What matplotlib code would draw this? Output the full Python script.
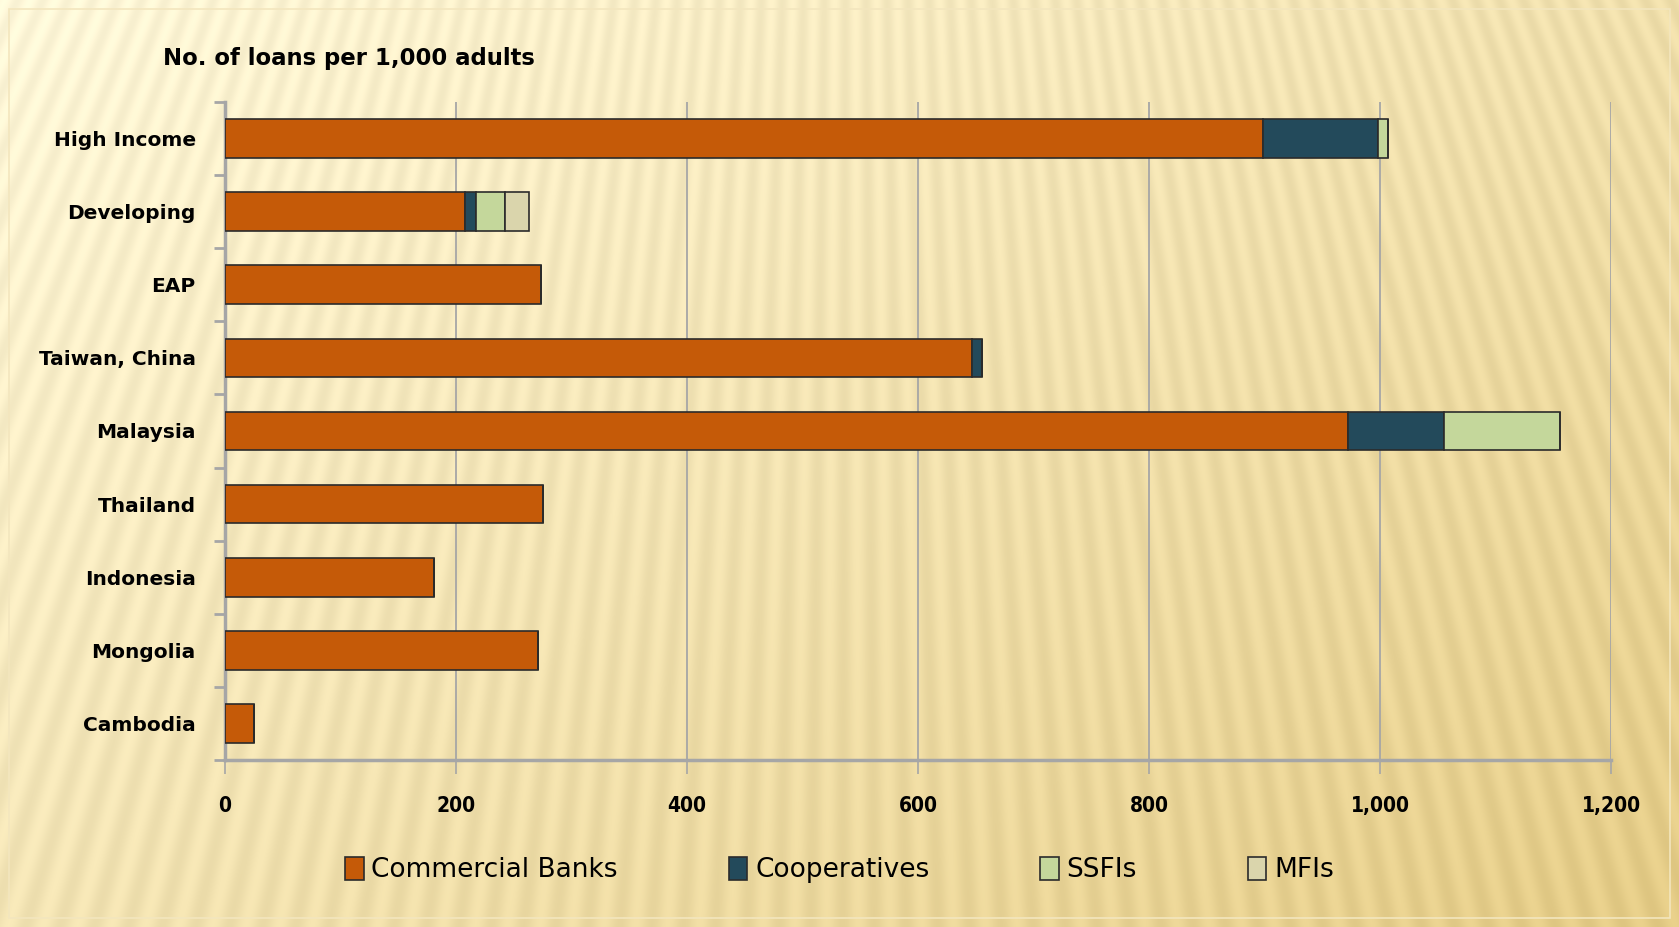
import numpy as np
import matplotlib
matplotlib.use("Agg")
import matplotlib.pyplot as plt
from matplotlib.patches import Rectangle

categories = ["High Income", "Developing", "EAP", "Taiwan, China", "Malaysia",
              "Thailand", "Indonesia", "Mongolia", "Cambodia"]
series_names = ["Commercial Banks", "Cooperatives", "SSFIs", "MFIs"]
commercial_banks = [899, 208, 274, 647, 972, 275, 181, 271, 25]
cooperatives = [99, 9, 0, 8, 83, 0, 0, 0, 0]
ssfis = [9, 25, 0, 0, 101, 0, 0, 0, 0]
mfis = [0, 21, 0, 0, 0, 0, 0, 0, 0]
x_ticks = [0, 200, 400, 600, 800, 1000, 1200]
x_tick_labels = ["0", "200", "400", "600", "800", "1,000", "1,200"]
title = "No. of loans per 1,000 adults"

colors = ["#C55A08", "#234A5B", "#C4D79B", "#DAD5AC"]

W, H = 1679, 927
fig = plt.figure(figsize=(W / 100, H / 100), dpi=100)

# background: warm gradient with soft ray stripes
bg = fig.add_axes([0, 0, 1, 1], zorder=-10)
yy, xx = np.mgrid[0:H, 0:W].astype(float)
t = np.clip(0.55 * xx / W + 0.45 * yy / H, 0, 1)
c0 = np.array([255, 248, 218]) / 255.0
c1 = np.array([228, 203, 133]) / 255.0
img = c0[None, None, :] * (1 - t[..., None]) + c1[None, None, :] * t[..., None]
ang = np.arctan2(xx - 850.0, yy + 1800.0)
stripes = 0.5 + 0.5 * np.sin(ang * 540.0)
img = img + (stripes[..., None] - 0.5) * 0.05
img = np.clip(img, 0, 1)
bg.imshow(img, aspect="auto", extent=[0, W, H, 0], interpolation="bilinear")
bg.add_patch(Rectangle((9, 9), W - 18, H - 18, fill=False, ec="#F3E6BE", lw=1.2))
bg.set_xlim(0, W)
bg.set_ylim(H, 0)
bg.axis("off")

ax = fig.add_axes([225 / W, 1 - 760 / H, (1611 - 225) / W, (760 - 102) / H])
ax.patch.set_alpha(0)

y = np.arange(len(categories))
left = np.zeros(len(categories))
for name, vals, col in zip(series_names, [commercial_banks, cooperatives, ssfis, mfis], colors):
    vals = np.array(vals, dtype=float)
    ax.barh(y, vals, left=left, height=0.53, color=col, edgecolor="#2B2B2B",
            linewidth=1.2, label=name, zorder=3)
    left += vals

ax.set_xlim(0, 1200)
ax.set_ylim(len(categories) - 0.5, -0.5)

ax.set_xticks(x_ticks)
ax.set_xticklabels(x_tick_labels, fontsize=15, fontweight="bold",
                   family="DejaVu Sans", stretch="condensed")
ax.tick_params(axis="x", length=10, width=1.2, color="#A6A6A6", pad=16)
ax.grid(axis="x", color="#A6A6A6", linewidth=1.3, zorder=0)

ax.set_yticks(y)
ax.set_yticklabels(categories, fontsize=14.5, fontweight="bold", family="DejaVu Sans")
ax.set_yticks(np.arange(-0.5, len(categories), 1.0), minor=True)
ax.tick_params(axis="y", which="major", length=0, pad=21)
ax.tick_params(axis="y", which="minor", length=8, width=2, color="#A6A6A6")

for s in ["top", "right"]:
    ax.spines[s].set_visible(False)
for s in ["left", "bottom"]:
    ax.spines[s].set_color("#A6A6A6")
    ax.spines[s].set_linewidth(2.5)

fig.text(163 / W, 1 - 58 / H, title, fontsize=16.4, fontweight="bold",
         family="DejaVu Sans", va="center", ha="left")

leg = fig.legend(loc="center", bbox_to_anchor=(0.5, 1 - 870 / H), ncol=4, frameon=False,
                 prop={"family": "DejaVu Sans", "size": 19},
                 handlelength=0.7, handleheight=1.0, handletextpad=0.3, columnspacing=4.2)

fig.savefig("out.png", dpi=100)
